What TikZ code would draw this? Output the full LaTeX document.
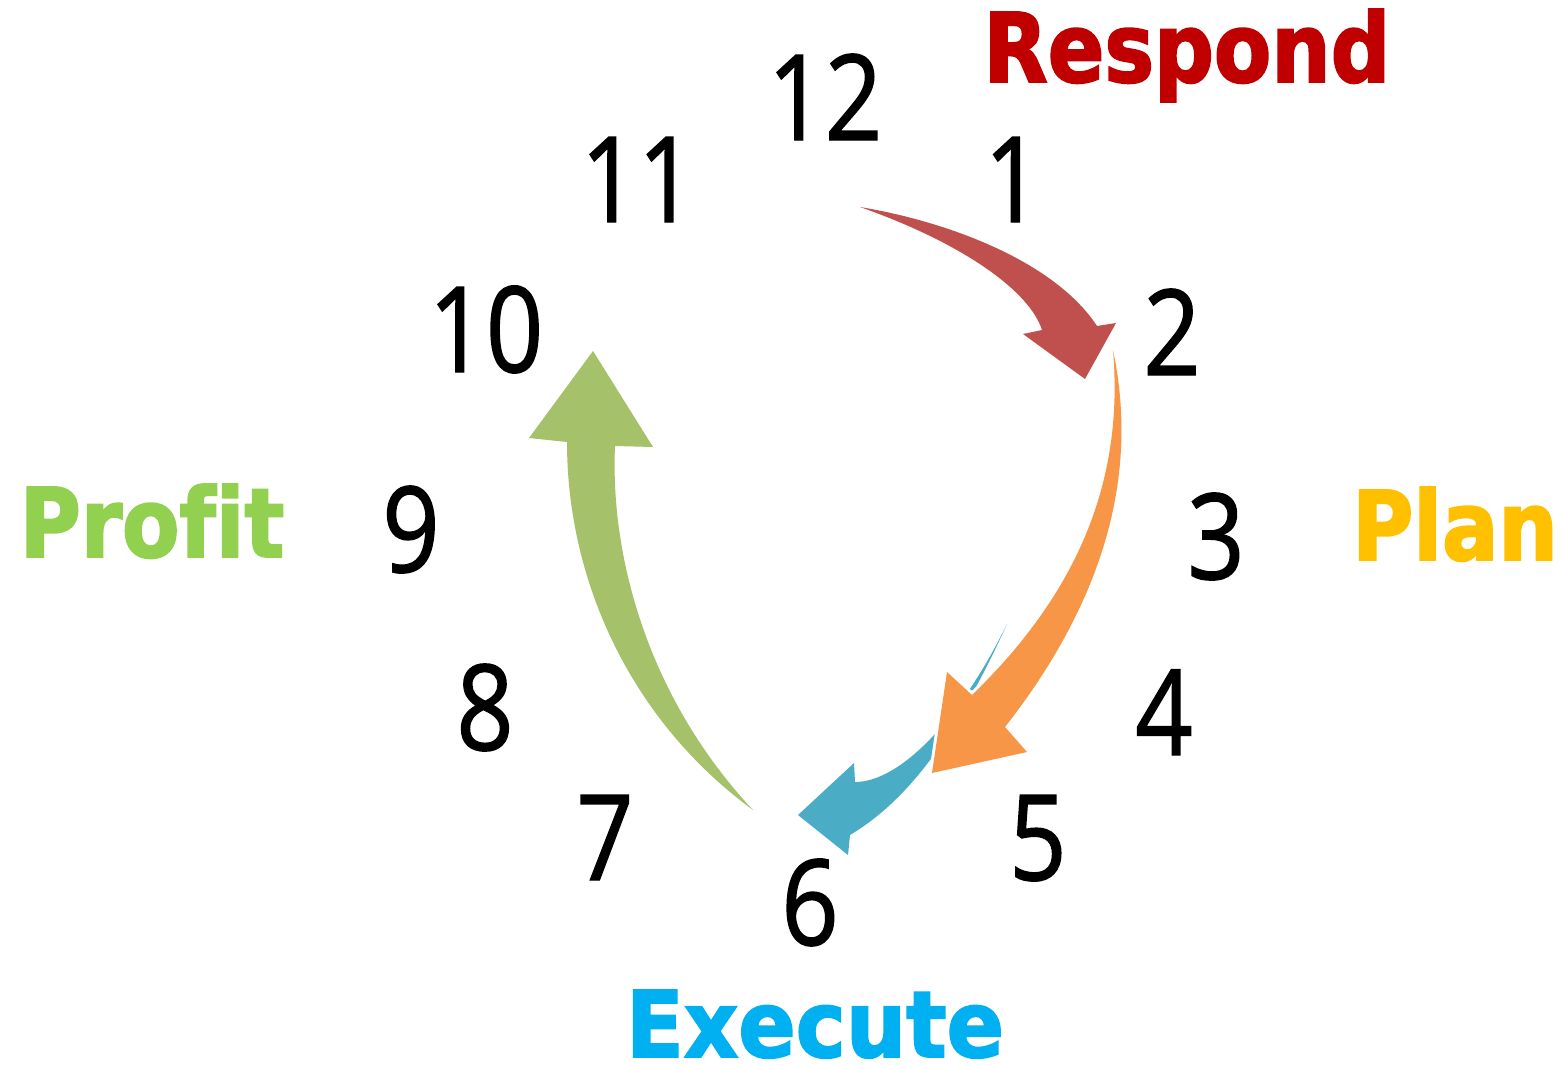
\documentclass[tikz,border=0pt]{standalone}
\usepackage{fontspec}
\newfontfamily\numfont[FakeStretch=0.84,FakeBold=1.2]{Open Sans}
\newfontfamily\labfont[FakeStretch=0.87,FakeBold=2,Ligatures=NoCommon]{DejaVu Sans}
\newfontfamily\execfont[FakeStretch=0.92,FakeBold=2]{DejaVu Sans}
\definecolor{redA}{HTML}{C0504D}
\definecolor{orangeA}{HTML}{F79646}
\definecolor{blueA}{HTML}{4BACC6}
\definecolor{greenA}{HTML}{A5C26A}
\definecolor{respC}{HTML}{C00000}
\definecolor{planC}{HTML}{FFC000}
\definecolor{profC}{HTML}{92D050}
\definecolor{execC}{HTML}{00B0F0}
\begin{document}
\begin{tikzpicture}[x=1pt,y=-1pt,
  num/.style={anchor=base, inner sep=0pt, text=black, font=\numfont\fontsize{119}{119}\selectfont},
  lab/.style={anchor=base, inner sep=0pt, font=\labfont\bfseries\fontsize{96}{96}\selectfont}]
\useasboundingbox (0,0) rectangle (1566,1065);
\fill[white] (0,0) rectangle (1566,1065);

% clock numbers
\node[num] (n12) at (825,140) {12};
\node[num] (n1)  at (1013,222) {1};
\node[num] (n11) at (638,222) {11};
\node[num] (n2)  at (1172,375) {2};
\node[num] (n10) at (486,372) {10};
\node[num] (n3)  at (1216,579) {3};
\node[num] (n9)  at (411,572) {9};
\node[num] (n4)  at (1164,755) {4};
\node[num] (n8)  at (485,750) {8};
\node[num] (n5)  at (1038,880) {5};
\node[num] (n7)  at (605,880) {7};
\node[num] (n6)  at (810,945) {6};

% labels
\node[lab, text=respC] (respond) at (1187,82) {Respond};
\node[lab, text=planC] (plan) at (1455,560) {Plan};
\node[lab, text=profC] (profit) at (152,557) {Prof\kern0pt it};
\node[lab, text=execC, font=\execfont\bfseries\fontsize{92}{92}\selectfont] (execute) at (815,1057) {Execute};

% blue arrow (under orange)
\fill[blueA] (1007,624) .. controls (960,720) and (900,782) .. (855,782)
  -- (854,763) -- (798,815) -- (848,855) -- (850,835)
  .. controls (900,805) and (950,750) .. (1007,624) -- cycle;

% white halo, then orange arrow
\draw[white, line width=6, line join=round]
  (1113,350) .. controls (1132,440) and (1128,570) .. (1005,727)
  -- (1027,752) -- (932,773) -- (947,672) -- (972,695)
  .. controls (1070,600) and (1125,490) .. (1113,350) -- cycle;
\fill[orangeA]
  (1113,350) .. controls (1132,440) and (1128,570) .. (1005,727)
  -- (1027,752) -- (932,773) -- (947,672) -- (972,695)
  .. controls (1070,600) and (1125,490) .. (1113,350) -- cycle;

% red arrow
\fill[redA] (860,207) .. controls (950,222) and (1055,262) .. (1097,326)
  -- (1116,323) -- (1085,379) -- (1023,334) -- (1042,330)
  .. controls (1030,292) and (965,244) .. (860,207) -- cycle;

% green arrow
\fill[greenA] (753,810) .. controls (630,720) and (567,580) .. (567,442)
  -- (529,438) -- (593,351) -- (653,447) -- (615,446)
  .. controls (610,560) and (650,700) .. (753,810) -- cycle;
\end{tikzpicture}
\end{document}
